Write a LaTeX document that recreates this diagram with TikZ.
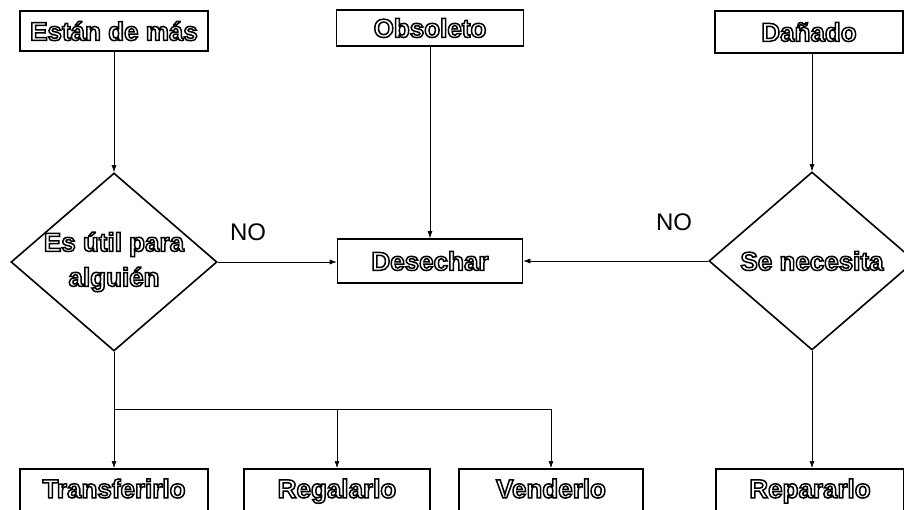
\documentclass[tikz,border=0pt]{standalone}
\usepackage{fontspec}
\setmainfont{Liberation Sans}
\usetikzlibrary{shapes.geometric, arrows.meta, positioning, calc}
% letra hueca: relleno blanco con trazo negro
\newcommand{\hueco}[1]{\special{pdf:code q 2 Tr 1.5 w 1 g 0 G}#1\special{pdf:code Q}}

\begin{document}
\begin{tikzpicture}[x=1pt, y=-1pt, ->, >={Latex[length=7pt, width=5pt]}, line width=0.6pt,
  every node/.style = {inner sep=0pt, align=center, font=\fontsize{26}{35}\selectfont\bfseries},
  caja/.style = {shape=rectangle, draw, line width=1.6pt, minimum height=36pt},
  abajo/.style = {caja, anchor=north, text height=29pt, text depth=22pt},
  rombo/.style = {shape=diamond, draw, line width=1.6pt, minimum width=206pt, minimum height=178pt},
  etiqueta/.style = {font=\fontsize{24}{28}\selectfont}]
  \clip (0,0) rectangle (904,509);
  % fila de arriba
  \node[caja, minimum width=188pt, minimum height=40pt] (estan) at (114,31) {\hueco{Están de más}};
  \node[caja, minimum width=187pt] (obsoleto) at (430,28) {\hueco{Obsoleto}};
  \node[caja, minimum width=188pt, minimum height=42pt] (danado) at (809,32) {\hueco{Dañado}};
  % preguntas
  \node[rombo, label={[align=center]center:{\hueco{Es útil para}\\\hueco{alguién}}}] (util) at (114,262) {};
  \node[caja, minimum width=185pt, minimum height=44pt] (desechar) at (430,261) {\hueco{Desechar}};
  \node[rombo, label={center:{\hueco{Se necesita}}}] (necesita) at (812,261) {};
  \node[etiqueta] (no1) at (248,232) {NO};
  \node[etiqueta] (no2) at (674,222) {NO};
  % fila de abajo
  \node[abajo, minimum width=188pt] (transferir) at (114,468) {\hueco{Transferirlo}};
  \node[abajo, minimum width=186pt] (regalar) at (337,468) {\hueco{Regalarlo}};
  \node[abajo, minimum width=184pt] (vender) at (551,468) {\hueco{Venderlo}};
  \node[abajo, minimum width=188pt] (reparar) at (810,468) {\hueco{Repararlo}};
  \coordinate (rama) at (114,409);
  \draw (estan) -- (util);
  \draw (obsoleto) -- (desechar);
  \draw (danado.south -| necesita) -- (necesita);
  \draw (util.east) -- (util.east -| desechar.west);
  \draw (necesita.west) -- (necesita.west -| desechar.east);
  \draw (necesita) -- (necesita |- reparar.north);
  \draw[-] (util.south) -- (rama) -- (rama -| vender);
  \draw (rama) -- (transferir);
  \draw (rama -| regalar) -- (regalar);
  \draw (rama -| vender) -- (vender);
\end{tikzpicture}
\end{document}
